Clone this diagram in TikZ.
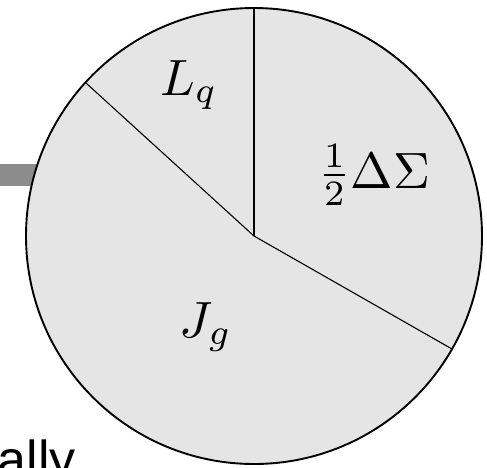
\documentclass[tikz,border=0pt]{standalone}
\usepackage{fontspec}
\newfontfamily\arialfont{Liberation Sans}
\tikzset{
  pielabel/.style={anchor=base,inner sep=0pt,scale=5.1,font=\normalsize},
  divider/.style={line width=1.1pt,draw=black},
}
\begin{document}
\begin{tikzpicture}[x=1pt,y=-1pt]
\useasboundingbox (0,0) rectangle (487,467);
% grey bar behind the circle
\fill[black!45] (0,164) rectangle (80,186);
% text at lower left
\node[anchor=base east,inner sep=0pt,font=\arialfont\fontsize{52}{56}\selectfont] (txt) at (76,477) {ally};
% pie
\coordinate (c) at (254,236);
\filldraw[fill=black!10,draw=black,line width=1.9pt] (c) circle[radius=228];
\coordinate (top) at (254,8);
\coordinate (ul) at (86,83);
\coordinate (lr) at (452,349);
\draw[divider] (top) -- (c);
\draw[divider] (ul) -- (c);
\draw[divider] (lr) -- (c);
\node[pielabel] (lq) at (189,95) {$L_q$};
\node[pielabel] (ds) at (374,188) {$\frac{1}{2}\Delta\Sigma$};
\node[pielabel] (jg) at (206,337) {$J_g$};
\end{tikzpicture}
\end{document}
